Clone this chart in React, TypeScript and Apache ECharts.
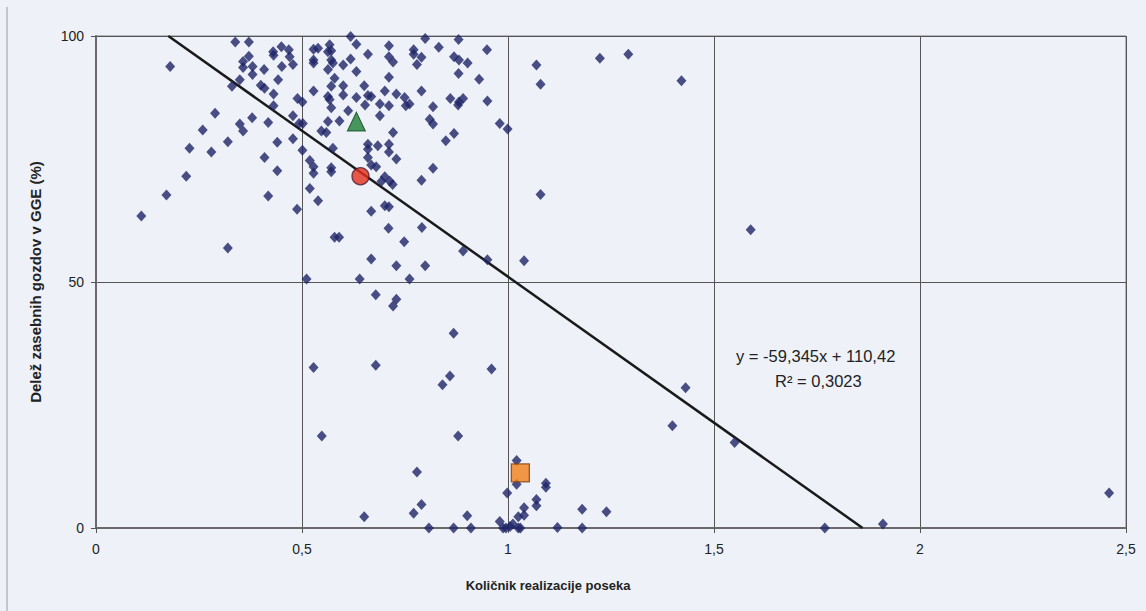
import React, { useEffect, useRef } from "react";
import * as echarts from "echarts";

// Količnik realizacije poseka (x) / Delež zasebnih gozdov v GGE (%) (y)
const pointsX: number[] = [
  0.180, 0.338, 0.371, 0.371, 0.357, 0.357, 0.380, 0.380, 0.408, 0.430,
  0.431, 0.450, 0.468, 0.470, 0.478, 0.451, 0.442, 0.349, 0.330, 0.400,
  0.409, 0.431, 0.431, 0.489, 0.501, 0.289, 0.379, 0.349, 0.357, 0.418,
  0.478, 0.493, 0.502, 0.259, 0.320, 0.227, 0.280, 0.440, 0.478, 0.501,
  0.409, 0.440, 0.219, 0.171, 0.418, 0.519, 0.110, 0.488, 0.320, 0.511,
  0.618, 0.632, 0.528, 0.539, 0.567, 0.571, 0.563, 0.528, 0.528, 0.571,
  0.575, 0.600, 0.618, 0.660, 0.563, 0.632, 0.711, 0.711, 0.721, 0.771,
  0.771, 0.790, 0.779, 0.799, 0.832, 0.880, 0.949, 0.869, 0.881, 0.902,
  0.880, 0.930, 0.711, 0.579, 0.571, 0.600, 0.651, 0.528, 0.600, 0.563,
  0.567, 0.632, 0.660, 0.668, 0.701, 0.729, 0.749, 0.790, 0.653, 0.689,
  0.711, 0.752, 0.761, 0.571, 0.818, 0.860, 0.881, 0.891, 0.879, 0.950,
  0.612, 0.591, 0.563, 0.689, 0.810, 0.818, 0.547, 0.559, 0.721, 0.980,
  0.999, 0.869, 0.849, 0.575, 0.660, 0.660, 0.684, 0.711, 0.711, 0.660,
  0.729, 0.668, 0.680, 0.519, 0.528, 0.528, 0.571, 0.571, 0.818, 0.701,
  0.713, 0.693, 0.790, 0.539, 0.720, 0.668, 0.701, 0.711, 0.710, 0.791,
  0.579, 0.590, 0.748, 0.668, 0.729, 0.799, 0.891, 0.950, 0.640, 0.761,
  0.679, 0.729, 0.721, 0.868, 1.069, 1.079, 1.223, 1.292, 1.421, 1.079,
  1.039, 0.528, 0.679, 0.960, 0.859, 0.841, 0.548, 0.879, 0.779, 0.790,
  0.771, 0.651, 0.808, 0.868, 0.901, 0.910, 0.998, 1.021, 1.021, 0.980,
  0.988, 0.995, 1.005, 1.025, 1.025, 1.092, 1.092, 1.069, 1.069, 1.039,
  1.039, 1.012, 1.030, 1.120, 1.180, 1.180, 1.239, 1.431, 1.399, 1.550,
  1.589, 1.769, 1.910, 2.459,
];
const pointsY: number[] = [
  93.8, 98.8, 98.8, 95.9, 94.8, 93.6, 93.8, 92.2, 93.2, 96.8,
  96.1, 97.8, 97.2, 95.8, 94.2, 93.8, 91.1, 91.1, 89.8, 90.0,
  89.4, 88.2, 85.8, 87.3, 86.6, 84.3, 83.4, 82.1, 80.7, 82.4,
  83.8, 82.2, 82.2, 80.9, 78.5, 77.2, 76.4, 78.4, 79.1, 76.8,
  75.3, 72.6, 71.5, 67.7, 67.5, 69.0, 63.4, 64.8, 56.9, 50.6,
  99.9, 98.3, 97.3, 97.5, 98.2, 97.0, 96.8, 95.1, 94.5, 95.1,
  94.5, 94.1, 95.3, 96.3, 93.2, 92.8, 98.0, 95.8, 94.7, 97.2,
  96.3, 95.7, 94.2, 99.5, 97.7, 99.3, 97.2, 95.8, 95.1, 94.5,
  92.4, 91.2, 91.6, 91.4, 89.8, 89.9, 89.9, 88.8, 88.0, 87.7,
  87.1, 87.5, 87.9, 87.7, 88.8, 88.2, 87.5, 88.8, 86.0, 86.2,
  85.8, 85.8, 86.2, 85.4, 85.6, 87.3, 86.6, 87.3, 86.0, 86.8,
  84.8, 82.7, 82.6, 83.8, 83.1, 82.1, 80.7, 80.4, 80.4, 82.2,
  81.1, 80.2, 78.7, 77.2, 78.0, 77.0, 77.7, 78.0, 76.4, 75.3,
  75.0, 73.8, 73.4, 74.7, 73.4, 72.1, 73.2, 72.4, 73.1, 71.4,
  70.5, 70.5, 70.7, 66.5, 69.8, 64.4, 65.5, 65.3, 60.9, 61.1,
  59.1, 59.1, 58.2, 54.7, 53.3, 53.3, 56.3, 54.5, 50.6, 50.6,
  47.4, 46.5, 45.1, 39.6, 94.1, 90.2, 95.5, 96.3, 90.9, 67.8,
  54.3, 32.6, 33.1, 32.3, 30.9, 29.1, 18.7, 18.7, 11.4, 4.8,
  3.0, 2.3, 0.0, 0.0, 2.5, 0.0, 7.1, 13.7, 8.9, 1.3,
  0.0, 0.0, 0.3, 0.0, 2.3, 9.1, 8.3, 5.8, 4.5, 4.1,
  2.6, 0.8, 0.0, 0.1, 0.0, 3.8, 3.3, 28.5, 20.8, 17.4,
  60.6, 0.0, 0.8, 7.1,
];

// Highlighted points
const trianglePoint: number[] = [0.632, 82.6];
const circlePoint: number[] = [0.642, 71.5];
const squarePoint: number[] = [1.030, 11.2];

// Linear trendline coefficients
const slope = -59.345;
const intercept = 110.42;
const r2 = 0.3023;

const xTicks = { min: 0, max: 2.5, interval: 0.5 };
const yTicks = { min: 0, max: 100, interval: 50 };

const xTitle = "Količnik realizacije poseka";
const yTitle = "Delež zasebnih gozdov v GGE (%)";

const fmt = (v: number, d: number) => v.toFixed(d).replace(".", ",");

export default function App() {
  const ref = useRef<HTMLDivElement>(null);
  useEffect(() => {
    if (!ref.current) return;
    const chart = echarts.init(ref.current, undefined, { renderer: "svg" });

    const scatterData = pointsX.map((x, i) => [x, pointsY[i]]);
    // Trendline clipped to the plot range
    const xStart = (yTicks.max - intercept) / slope;
    const xEnd = (yTicks.min - intercept) / slope;
    const trendData = [
      [xStart, slope * xStart + intercept],
      [xEnd, slope * xEnd + intercept],
    ];

    const font = "'Liberation Sans', Arial, sans-serif";

    chart.setOption({
      animation: false,
      backgroundColor: "#eef2f8",
      grid: {
        left: 96,
        top: 36,
        width: 1030,
        height: 492,
        show: true,
        borderColor: "#7a7a84",
        borderWidth: 1,
        backgroundColor: "transparent",
      },
      xAxis: {
        type: "value",
        min: xTicks.min,
        max: xTicks.max,
        interval: xTicks.interval,
        axisLine: { show: true, onZero: false, lineStyle: { color: "#6a6a6a", width: 2 } },
        axisTick: { show: true, length: 5, lineStyle: { color: "#555" } },
        splitLine: { show: true, lineStyle: { color: "#555", width: 1 } },
        axisLabel: {
          margin: 14,
          color: "#222",
          fontSize: 14,
          fontFamily: font,
          formatter: (v: number) => (v % 1 === 0 ? String(v) : fmt(v, 1)),
        },
      },
      yAxis: {
        type: "value",
        min: yTicks.min,
        max: yTicks.max,
        interval: yTicks.interval,
        axisLine: { show: true, onZero: false, lineStyle: { color: "#6a6a6a", width: 2 } },
        axisTick: { show: true, length: 5, lineStyle: { color: "#555" } },
        splitLine: { show: true, lineStyle: { color: "#555", width: 1 } },
        axisLabel: { margin: 12, color: "#222", fontSize: 14, fontFamily: font },
      },
      series: [
        {
          type: "line",
          data: trendData,
          symbol: "none",
          lineStyle: { color: "#1a1a1a", width: 2.5 },
          silent: true,
          z: 3,
        },
        {
          type: "scatter",
          data: scatterData,
          symbol: "diamond",
          symbolSize: [10, 11],
          itemStyle: { color: "#1e2466" },
          z: 4,
        },
        {
          type: "scatter",
          data: [trianglePoint],
          symbol: "triangle",
          symbolSize: [18, 19],
          itemStyle: { color: "#1b7e36", borderColor: "#0b3f18", borderWidth: 1 },
          z: 5,
        },
        {
          type: "scatter",
          data: [circlePoint],
          symbol: "circle",
          symbolSize: 17,
          itemStyle: { color: "#e5301c", borderColor: "#4a1630", borderWidth: 1.3 },
          z: 5,
        },
        {
          type: "scatter",
          data: [squarePoint],
          symbol: "rect",
          symbolSize: 18,
          itemStyle: { color: "#f07e16", borderColor: "#7d3c10", borderWidth: 1.3 },
          z: 5,
        },
      ],
      graphic: [
        {
          type: "text",
          left: 736,
          top: 347,
          style: {
            text: "y = -59,345x + 110,42",
            fontSize: 16.5,
            fontFamily: font,
            fill: "#222",
          },
          z: 10,
        },
        {
          type: "text",
          left: 775,
          top: 372,
          style: {
            text: "R² = " + fmt(r2, 4),
            fontSize: 16.5,
            fontFamily: font,
            fill: "#222",
          },
          z: 10,
        },
        {
          type: "text",
          x: 548,
          y: 585,
          style: {
            text: xTitle,
            fontSize: 13,
            fontWeight: "bold",
            fontFamily: font,
            fill: "#222",
            align: "center",
            verticalAlign: "middle",
          },
        },
        {
          type: "text",
          x: 35,
          y: 282,
          rotation: Math.PI / 2,
          style: {
            text: yTitle,
            fontSize: 15,
            fontWeight: "bold",
            fontFamily: font,
            fill: "#222",
            align: "center",
            verticalAlign: "middle",
          },
        },
        {
          type: "line",
          shape: { x1: 7, y1: 7, x2: 7, y2: 611 },
          style: { stroke: "#9a9aa4", lineWidth: 1 },
        },
      ],
    });
    return () => chart.dispose();
  }, []);
  return (
    <div
      ref={ref}
      style={{ position: "fixed", left: 0, top: 0, width: 1146, height: 611 }}
    />
  );
}
